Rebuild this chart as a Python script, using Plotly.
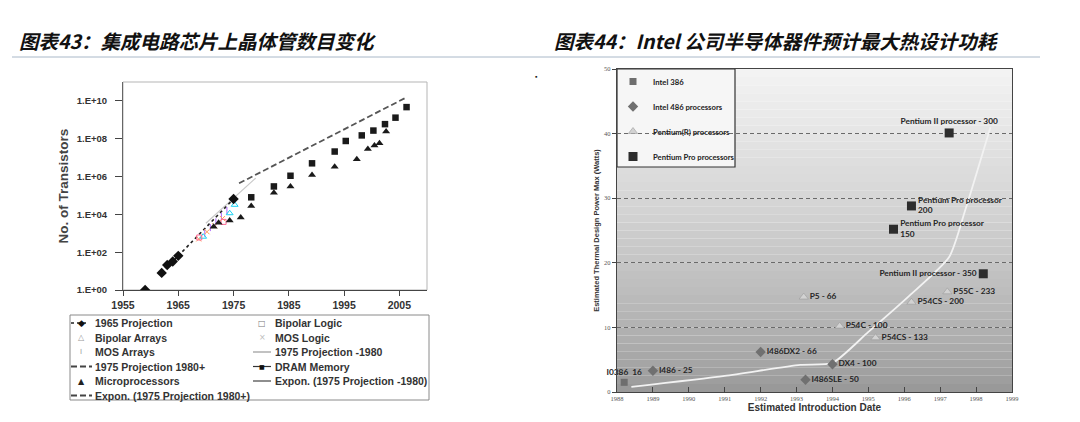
import plotly.graph_objects as go

W, H = 1080, 422
OFF = 8  # the page body adds an 8px margin around the plot div

# ---- chart 43: transistors per chip (log scale)
proj65_years = [1959, 1962, 1963, 1964, 1965, 1975]
proj65_count = [1, 8, 21, 32, 64, 65000]
bip_logic_years = [1968.8, 1973.2]
bip_logic_count = [600, 4000]
bip_array_years = [1969.5, 1974.3, 1975.2]
bip_array_count = [660, 11500, 32000]
mos_array_years = [1969.8, 1970.8, 1971.8, 1972.8, 1973.8]
mos_array_count = [1000, 2000, 4000, 8000, 16000]
mos_logic_years = [1968.7, 1970.2, 1971.6, 1973.0]
mos_logic_count = [500, 1200, 2500, 6000]
proj75_early_years = [1970, 1979]
proj75_early_count = [3400, 830000]
proj75_late_years = [1976, 2006]
proj75_late_count = [440000, 1.4e10]
dram_years = [1978.2, 1982.3, 1985.3, 1989.2, 1993.3, 1995.3, 1998.2, 2000.3, 2002.4, 2004.3, 2006.3]
dram_count = [8e4, 3e5, 1.1e6, 5e6, 2.1e7, 7.6e7, 1.5e8, 2.7e8, 5.9e8, 1.3e9, 4.7e9]
micro_years = [1971.4, 1972.3, 1974.3, 1976.3, 1978.2, 1982.3, 1985.3, 1989.2,
               1993.3, 1997.3, 1999.3, 2000.5, 2001.4, 2002.6]
micro_count = [2.2e3, 3.6e3, 4.7e3, 6.8e3, 2.8e4, 1.4e5, 3.0e5, 1.2e6,
               3.3e6, 8.1e6, 2.9e7, 4.4e7, 5.8e7, 2.4e8]
log_ticks = [1, 1e2, 1e4, 1e6, 1e8, 1e10]
log_tick_text = ["1.E+00", "1.E+02", "1.E+04", "1.E+06", "1.E+08", "1.E+10"]
year_ticks = [1955, 1965, 1975, 1985, 1995, 2005]

legend43_col1 = ["1965 Projection", "Bipolar Arrays", "MOS Arrays",
                 "1975 Projection 1980+", "Microprocessors", "Expon. (1975 Projection 1980+)"]
legend43_col2 = ["Bipolar Logic", "MOS Logic", "1975 Projection -1980",
                 "DRAM Memory", "Expon. (1975 Projection -1980)"]

# ---- chart 44: Intel thermal design power
i386_year = [1988.2]
i386_watt = [1.5]
i386_text = ["I0386  16"]
i486_year = [1989.0, 1992.0, 1993.25, 1994.0]
i486_watt = [3.3, 6.2, 1.9, 4.3]
i486_text = ["I486 - 25", "I486DX2 - 66", "I486SLE - 50", "DX4 - 100"]
pent_year = [1993.2, 1994.2, 1995.2, 1996.2, 1997.2]
pent_watt = [14.7, 10.2, 8.4, 13.9, 15.5]
pent_text = ["P5 - 66", "P54C - 100", "P54CS - 133", "P54CS - 200", "P55C - 233"]
ppro_year = [1995.7, 1996.2, 1997.25, 1998.2]
ppro_watt = [25.2, 28.8, 40.1, 18.3]
ppro_text = ["Pentium Pro processor<br>150", "Pentium Pro processor<br>200",
             "Pentium II processor - 300", "Pentium II processor - 350"]
trend_year = [1988.4, 1991.0, 1993.1, 1994.0, 1995.0, 1996.1, 1997.25, 1997.7, 1998.4]
trend_watt = [0.8, 2.5, 4.2, 4.5, 9.3, 14.7, 20.9, 28.2, 41.0]
tdp_year_ticks = list(range(1988, 2000))
tdp_watt_ticks = [0, 10, 20, 30, 40, 50]


def px(x):
    return (x - OFF) / W


def py(y):
    return 1 - (y - OFF) / H


SANS = "Liberation Sans, Arial"
LBL = dict(family="Lato", size=8.3, color="#262626", weight="bold")

fig = go.Figure()

# left chart traces
fig.add_trace(go.Scatter(x=proj75_early_years, y=proj75_early_count, mode="lines",
                         line=dict(color="#c8c8c8", width=1.2), showlegend=False))
fig.add_trace(go.Scatter(x=proj75_late_years, y=proj75_late_count, mode="lines",
                         line=dict(color="#555", width=1.8, dash="6px,3px"), showlegend=False))
fig.add_trace(go.Scatter(x=proj65_years[1:], y=proj65_count[1:], mode="lines",
                         line=dict(color="#222", width=1.6, dash="dot"), showlegend=False))
fig.add_trace(go.Scatter(x=mos_array_years, y=mos_array_count, mode="markers",
                         marker=dict(symbol="line-ns-open", size=5, line=dict(color="#999", width=1)),
                         showlegend=False))
fig.add_trace(go.Scatter(x=mos_logic_years, y=mos_logic_count, mode="markers",
                         marker=dict(symbol="x-thin-open", size=5, line=dict(color="#aaa", width=1)),
                         showlegend=False))
fig.add_trace(go.Scatter(x=bip_array_years, y=bip_array_count, mode="markers",
                         marker=dict(symbol="triangle-up-open", size=6, line=dict(color="#999", width=1)),
                         showlegend=False))
fig.add_trace(go.Scatter(x=bip_logic_years, y=bip_logic_count, mode="markers",
                         marker=dict(symbol="square-open", size=5, line=dict(color="#777", width=1)),
                         showlegend=False))
fig.add_trace(go.Scatter(x=proj65_years, y=proj65_count, mode="markers",
                         marker=dict(symbol="diamond", size=8, color="#111"), showlegend=False))
fig.add_trace(go.Scatter(x=dram_years, y=dram_count, mode="markers",
                         marker=dict(symbol="square", size=6.5, color="#1a1a1a"), showlegend=False))
fig.add_trace(go.Scatter(x=micro_years, y=micro_count, mode="markers",
                         marker=dict(symbol="triangle-up", size=7, color="#1a1a1a"), showlegend=False))

# right chart traces
fig.add_trace(go.Scatter(x=trend_year, y=trend_watt, mode="lines", xaxis="x2", yaxis="y2",
                         line=dict(color="#f2f2f2", width=1.8, shape="spline", smoothing=0.6),
                         showlegend=False))
fig.add_trace(go.Scatter(x=i386_year, y=i386_watt, text=i386_text, name="Intel 386",
                         mode="markers+text", textposition="top center", textfont=LBL,
                         marker=dict(symbol="square", size=7, color="#6e6e6e"),
                         xaxis="x2", yaxis="y2", legendgroup="a", cliponaxis=False))
fig.add_trace(go.Scatter(x=i486_year, y=i486_watt, text=i486_text, name="Intel 486 processors",
                         mode="markers+text", textposition="middle right", textfont=LBL,
                         marker=dict(symbol="diamond", size=8, color="#707070"),
                         xaxis="x2", yaxis="y2", legendgroup="b", cliponaxis=False))
fig.add_trace(go.Scatter(x=pent_year, y=pent_watt, text=pent_text, name="Pentium(R) processors",
                         mode="markers+text", textposition="middle right", textfont=LBL,
                         marker=dict(symbol="triangle-up", size=8, color="#d2d2d2",
                                     line=dict(color="#9a9a9a", width=0.6)),
                         xaxis="x2", yaxis="y2", legendgroup="c", cliponaxis=False))
fig.add_trace(go.Scatter(x=ppro_year, y=ppro_watt, text=ppro_text, name="Pentium Pro processors",
                         mode="markers+text",
                         textposition=["middle right", "middle right", "top center", "middle left"],
                         textfont=LBL,
                         marker=dict(symbol="square", size=9, color="#2d2d2d"),
                         xaxis="x2", yaxis="y2", legendgroup="d", cliponaxis=False))

shapes = []
# grey gradient behind the TDP chart
N = 40
for i in range(N):
    t = (i + 0.5) / N
    g = int(150 + 94 * t ** 0.75)
    shapes.append(dict(type="rect", xref="x2 domain", yref="y2 domain", x0=0, x1=1,
                       y0=i / N, y1=(i + 1) / N, fillcolor=f"rgb({g},{g},{g})",
                       line=dict(width=0), layer="below"))
shapes.append(dict(type="rect", xref="x2 domain", yref="y2 domain", x0=0, x1=(735 - 617) / 395,
                   y0=(392 - 167) / 323, y1=1, fillcolor="#f6f6f6",
                   line=dict(color="#333", width=1.2), layer="below"))
# frame of chart 43
shapes.append(dict(type="rect", xref="x domain", yref="y domain", x0=0, x1=1, y0=0, y1=1,
                   line=dict(color="#b5b5b5", width=1), layer="below"))
# title rule
shapes.append(dict(type="line", xref="paper", yref="paper", x0=px(12), x1=px(1040),
                   y0=py(57), y1=py(57), line=dict(color="#a9b8c8", width=1)))
# legend box for chart 43
shapes.append(dict(type="rect", xref="paper", yref="paper", x0=px(70), x1=px(429),
                   y0=py(400), y1=py(315), line=dict(color="#8a8a8a", width=1)))

TITLE_FONT = dict(family="Noto Sans CJK SC", size=19.5, color="#111", weight="bold", style="italic")
annotations = [
    dict(text="图表43：集成电路芯片上晶体管数目变化", x=px(17), y=py(40), xref="paper", yref="paper",
         xanchor="left", yanchor="middle", showarrow=False, font=TITLE_FONT),
    dict(text="图表44：Intel 公司半导体器件预计最大热设计功耗", x=px(552), y=py(40), xref="paper",
         yref="paper", xanchor="left", yanchor="middle", showarrow=False, font=TITLE_FONT),
    dict(text="▪", x=px(536), y=py(70), xref="paper", yref="paper", showarrow=False,
         font=dict(size=7, color="#222")),
]

rows = [323, 337.5, 352, 366.5, 381, 395.5]
lf = dict(family=SANS, size=10.5, color="#333", weight="bold")
for r, lab in zip(rows, legend43_col1):
    annotations.append(dict(text=lab, x=px(93), y=py(r), xref="paper", yref="paper",
                            xanchor="left", yanchor="middle", showarrow=False, font=lf))
for r, lab in zip(rows, legend43_col2):
    annotations.append(dict(text=lab, x=px(273), y=py(r), xref="paper", yref="paper",
                            xanchor="left", yanchor="middle", showarrow=False, font=lf))


def sym(ch, x, r, color, size):
    annotations.append(dict(text=ch, x=px(x), y=py(r), xref="paper", yref="paper",
                            xanchor="center", yanchor="middle", showarrow=False,
                            font=dict(family="DejaVu Sans", size=size, color=color)))


def sample(x0, x1, r, color, width, dash):
    shapes.append(dict(type="line", xref="paper", yref="paper", x0=px(x0), x1=px(x1),
                       y0=py(r), y1=py(r), line=dict(color=color, width=width, dash=dash)))


sample(71, 88, rows[0], "#222", 1.6, "dot")
sym("◆", 81, rows[0], "#111", 9)
sym("△", 81, rows[1], "#999", 8)
sym("I", 81, rows[2], "#999", 7)
sample(71, 92, rows[3], "#444", 1.8, "6px,3px")
sym("▲", 81, rows[4], "#222", 8)
sample(71, 92, rows[5], "#444", 1.8, "6px,3px")
sym("□", 262, rows[0], "#777", 8)
sym("×", 262, rows[1], "#bbb", 8)
sample(253, 271, rows[2], "#999", 1.2, "solid")
sample(253, 271, rows[3], "#333", 1.2, "solid")
sym("■", 262, rows[3], "#111", 6)
sample(253, 271, rows[4], "#444", 1.2, "solid")

fig.update_layout(
    width=W, height=H, autosize=False,
    margin=dict(l=0, r=0, t=0, b=0),
    paper_bgcolor="white", plot_bgcolor="rgba(0,0,0,0)",
    shapes=shapes, annotations=annotations,
    xaxis=dict(domain=[px(123), px(427)], range=[1955, 2010], tickvals=year_ticks,
               ticks="outside", ticklen=5, tickcolor="#444", showline=True, linecolor="#444",
               showgrid=False, zeroline=False, automargin=False,
               tickfont=dict(family=SANS, size=10.5, color="#333", weight="bold")),
    yaxis=dict(domain=[py(290), py(82)], type="log", range=[0, 11], tickvals=log_ticks,
               ticktext=log_tick_text, ticks="outside", ticklen=7, tickcolor="#444",
               ticklabelstandoff=6, automargin=False,
               showline=True, linecolor="#666", showgrid=False, zeroline=False,
               tickfont=dict(family=SANS, size=9.5, color="#333", weight="bold"),
               title=dict(text="No. of Transistors", standoff=4,
                          font=dict(family=SANS, size=13.5, color="#444", weight="bold"))),
    xaxis2=dict(domain=[px(617), px(1012)], range=[1988, 1999], tickvals=tdp_year_ticks,
                anchor="y2", ticks="inside", ticklen=5, tickcolor="#444", showline=True,
                linecolor="#444", linewidth=1.2, mirror=True, showgrid=False, zeroline=False,
                automargin=False,
                tickfont=dict(family="Liberation Serif", size=6.5, color="#555"),
                title=dict(text="Estimated Introduction Date", standoff=1,
                           font=dict(family=SANS, size=10, color="#333", weight="bold"))),
    yaxis2=dict(domain=[py(392), py(69)], range=[0, 50], tickvals=tdp_watt_ticks,
                anchor="x2", ticks="outside", ticklen=4, tickcolor="#444", showline=True,
                linecolor="#444", linewidth=1.2, mirror=True, showgrid=True,
                gridcolor="#6a6a6a", griddash="4px,3px", gridwidth=1, zeroline=False,
                automargin=False,
                tickfont=dict(family="Liberation Serif", size=6.5, color="#555"),
                title=dict(text="Estimated Thermal Design Power Max (Watts)", standoff=3,
                           font=dict(family=SANS, size=7.5, color="#333", weight="bold"))),
    legend=dict(x=px(613), y=py(67), xanchor="left", yanchor="top", bgcolor="rgba(0,0,0,0)",
                borderwidth=0, tracegroupgap=6, itemwidth=30,
                font=dict(family="Lato", size=7.7, color="#222", weight="bold")),
)

fig.write_html("out.html")
